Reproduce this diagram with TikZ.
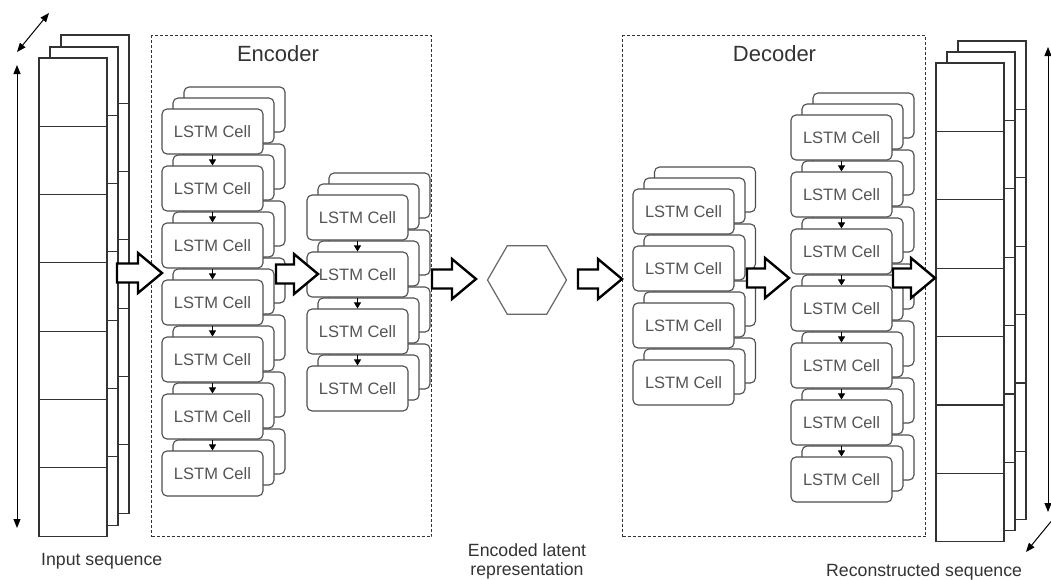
\documentclass[tikz,border=0pt]{standalone}
\usepackage{fontspec}
\setmainfont{Liberation Sans}
\usetikzlibrary{arrows.meta,shapes.geometric}
\definecolor{linec}{HTML}{333333}
\definecolor{cellc}{HTML}{4D4D4D}
\definecolor{txtc}{HTML}{555555}
\definecolor{labc}{HTML}{333333}
\definecolor{hexc}{HTML}{666666}
\tikzset{
 lstm/.style={draw=cellc, line width=1.1pt, fill=white, rounded corners=5pt, minimum width=101pt, minimum height=45pt, inner sep=0pt, font=\fontsize{16.5}{18}\selectfont, text=txtc},
 seqcell/.style={draw=linec, line width=1.1pt, fill=white, minimum width=68pt, minimum height=68.3pt, inner sep=0pt},
 smallarr/.style={-{Triangle[length=6pt,width=7pt]}, line width=0.9pt, draw=black},
 dimarr/.style={{Triangle[length=9pt,width=7pt]}-{Triangle[length=9pt,width=7pt]}, line width=1pt, draw=black},
 onearr/.style={-{Triangle[length=9pt,width=7pt]}, line width=1pt, draw=black},
 blockarr/.style={draw=black, line width=2.4pt, fill=white, line join=miter},
 framebox/.style={draw=linec, line width=1pt, dash pattern=on 3pt off 2pt, inner sep=0pt, anchor=north west},
 lab/.style={font=\fontsize{17.7}{20}\selectfont, text=labc, inner sep=0pt},
 titlelab/.style={font=\fontsize{22}{24}\selectfont, text=labc, inner sep=0pt},
}
\newcommand\blockarrow[3]{%
 \draw[blockarr] (#1,#3-9.5) -- (#2-24,#3-9.5) -- (#2-24,#3-20) -- (#2,#3) -- (#2-24,#3+20) -- (#2-24,#3+9.5) -- (#1,#3+9.5) -- cycle;}
\begin{document}
\begin{tikzpicture}[x=1pt,y=-1pt]
\useasboundingbox (0,0) rectangle (1051,579);

% ---------- input sequence ----------
\foreach \i in {1,...,7}{\pgfmathsetmacro\yy{35+68.3*(\i-1)+34.15}\node[seqcell] (inC-\i) at (95,\yy) {};}
\foreach \i in {1,...,7}{\pgfmathsetmacro\yy{47+68.3*(\i-1)+34.15}\node[seqcell] (inB-\i) at (84,\yy) {};}
\foreach \i in {1,...,7}{\pgfmathsetmacro\yy{58+68.3*(\i-1)+34.15}\node[seqcell] (inA-\i) at (73,\yy) {};}
\coordinate (lv1) at (17,65);
\coordinate (lv2) at (17,528);
\draw[dimarr] (lv1) -- (lv2);
\coordinate (ld1) at (17,52);
\coordinate (ld2) at (49,13);
\draw[dimarr] (ld1) -- (ld2);
\node[lab, anchor=base west] (inlab) at (41,565) {Input sequence};

% ---------- output sequence ----------
\foreach \i in {1,...,7}{\pgfmathsetmacro\yy{41+68.4*(\i-1)+34.2}\node[seqcell, minimum height=68.4pt] (outC-\i) at (992,\yy) {};}
\foreach \i in {1,...,7}{\pgfmathsetmacro\yy{52+68.4*(\i-1)+34.2}\node[seqcell, minimum height=68.4pt] (outB-\i) at (981,\yy) {};}
\foreach \i in {1,...,7}{\pgfmathsetmacro\yy{63+68.4*(\i-1)+34.2}\node[seqcell, minimum height=68.4pt] (outA-\i) at (970,\yy) {};}
\coordinate (rv1) at (1048,47);
\coordinate (rv2) at (1048,512);
\draw[dimarr] (rv1) -- (rv2);
\coordinate (rd1) at (1051,521.5);
\coordinate (rd2) at (1026,552);
\draw[onearr] (rd1) -- (rd2);
\node[lab, anchor=base west] (outlab) at (826,576) {Reconstructed sequence};

% ---------- frames ----------
\node[framebox, minimum width=280pt, minimum height=501pt] (encbox) at (151,35) {};
\node[framebox, minimum width=303pt, minimum height=501pt] (decbox) at (622,35) {};
\node[titlelab, anchor=base] (enctitle) at (278,61) {Encoder};
\node[titlelab, anchor=base] (dectitle) at (774.5,61) {Decoder};

% ---------- encoder column 1 ----------
\foreach \i in {1,...,7}{\pgfmathsetmacro\yy{131.5+57*(\i-1)}\node[lstm] (e1c-\i) at (234.5,\yy-22) {};}
\foreach \i in {1,...,7}{\pgfmathsetmacro\yy{131.5+57*(\i-1)}\node[lstm] (e1b-\i) at (223.5,\yy-11) {};}
\foreach \i in {1,...,7}{\pgfmathsetmacro\yy{131.5+57*(\i-1)}\node[lstm] (e1-\i) at (212.5,\yy) {LSTM Cell};}
\foreach \i [evaluate=\i as \j using int(\i+1)] in {1,...,6}{\draw[smallarr] (e1-\i.south) -- (e1-\j.north);}

% ---------- encoder column 2 ----------
\foreach \i in {1,...,4}{\pgfmathsetmacro\yy{217.5+57*(\i-1)}\node[lstm] (e2c-\i) at (379.5,\yy-22) {};}
\foreach \i in {1,...,4}{\pgfmathsetmacro\yy{217.5+57*(\i-1)}\node[lstm] (e2b-\i) at (368.5,\yy-11) {};}
\foreach \i in {1,...,4}{\pgfmathsetmacro\yy{217.5+57*(\i-1)}\node[lstm] (e2-\i) at (357.5,\yy) {LSTM Cell};}
\foreach \i [evaluate=\i as \j using int(\i+1)] in {1,...,3}{\draw[smallarr] (e2-\i.south) -- (e2-\j.north);}

% ---------- decoder column 1 ----------
\foreach \i in {1,...,4}{\pgfmathsetmacro\yy{211.5+57*(\i-1)}\node[lstm] (d1c-\i) at (705,\yy-22) {};}
\foreach \i in {1,...,4}{\pgfmathsetmacro\yy{211.5+57*(\i-1)}\node[lstm] (d1b-\i) at (694.5,\yy-11) {};}
\foreach \i in {1,...,4}{\pgfmathsetmacro\yy{211.5+57*(\i-1)}\node[lstm] (d1-\i) at (683.5,\yy) {LSTM Cell};}

% ---------- decoder column 2 ----------
\foreach \i in {1,...,7}{\pgfmathsetmacro\yy{137.5+57*(\i-1)}\node[lstm] (d2c-\i) at (863.5,\yy-22) {};}
\foreach \i in {1,...,7}{\pgfmathsetmacro\yy{137.5+57*(\i-1)}\node[lstm] (d2b-\i) at (852.5,\yy-11) {};}
\foreach \i in {1,...,7}{\pgfmathsetmacro\yy{137.5+57*(\i-1)}\node[lstm] (d2-\i) at (841.5,\yy) {LSTM Cell};}
\foreach \i [evaluate=\i as \j using int(\i+1)] in {1,...,6}{\draw[smallarr] (d2-\i.south) -- (d2-\j.north);}

% ---------- latent ----------
\node[regular polygon, regular polygon sides=6, minimum size=79pt, inner sep=0pt, draw=hexc, line width=1.2pt, fill=white] (hex) at (527,280) {};
\node[lab, anchor=base] (latlab1) at (527,556) {Encoded latent};
\node[lab, anchor=base] (latlab2) at (527,575) {representation};

% ---------- block arrows ----------
\blockarrow{117}{162}{273}
\blockarrow{276}{318}{274}
\blockarrow{432}{476}{279}
\blockarrow{578}{622}{279}
\blockarrow{747}{789}{278}
\blockarrow{893}{935}{278}
\end{tikzpicture}
\end{document}
